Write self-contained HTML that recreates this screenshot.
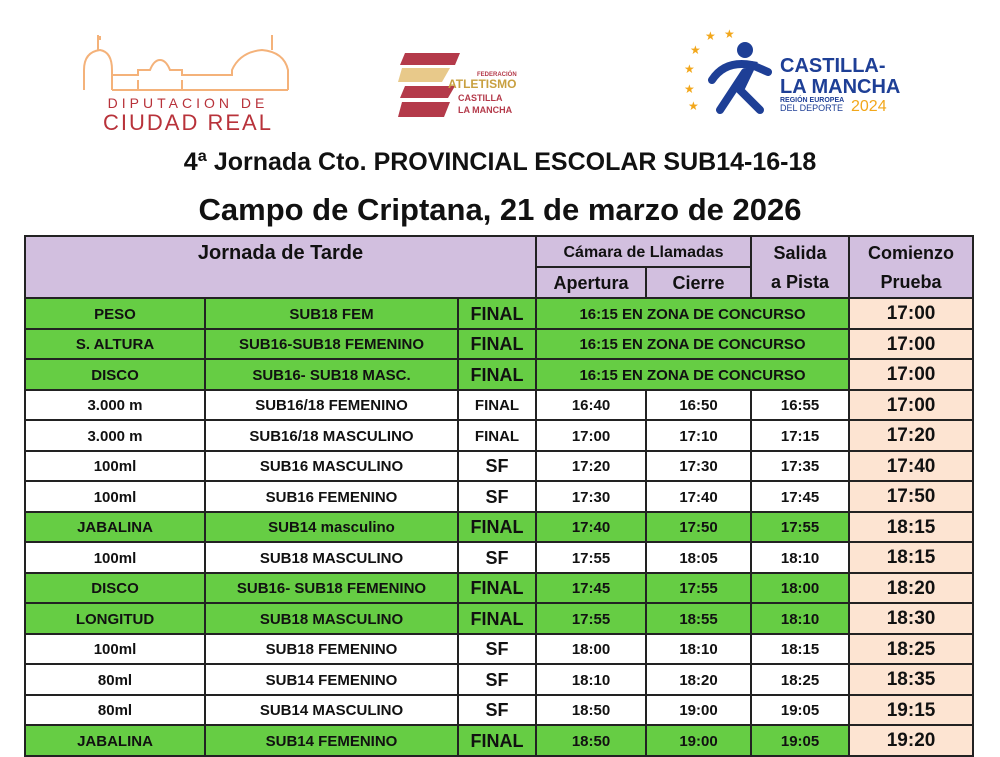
<!DOCTYPE html>
<html><head><meta charset="utf-8"><style>
body{margin:0;width:1000px;height:750px;background:#fff;overflow:hidden;font-family:"Liberation Sans",sans-serif;position:relative}
.t1{position:absolute;top:148px;left:0;width:1000px;text-align:center;font-weight:bold;font-size:25px;color:#111}
.t2{position:absolute;top:192px;left:0;width:1000px;text-align:center;font-weight:bold;font-size:31px;color:#111}
table{position:absolute;left:24px;top:235px;border-collapse:collapse;table-layout:fixed;width:949px}
td{border:2px solid #222;text-align:center;font-weight:bold;font-size:15px;padding:2px 0 0 0;height:26.5px;white-space:nowrap;overflow:hidden;color:#111;vertical-align:middle}
.h td{background:#d2bfdf;font-size:18px;height:25px}
.g td{background:#66cd44}
td.p{background:#fde4d2 !important;font-size:19px}
.b{font-size:18px}
</style></head><body>
<svg width="1000" height="140" style="position:absolute;left:0;top:0">
<g fill="none" stroke="#f4b27a" stroke-width="2">
<path d="M84 90 V70 Q84 52 100 50 Q112 52 112 70 V90 M98 50 V35 M100 40 V36 M112 75 H138 V70 H150 Q154 60 160 60 Q166 60 170 70 H182 V75 H232 V70 Q240 52 262 50 Q284 52 288 70 V90 M272 50 V35 M112 90 H288 M138 80 V90 M182 80 V90"/>
</g>
<text x="188" y="108" text-anchor="middle" font-family="Liberation Sans" font-size="14" letter-spacing="4" fill="#b8323a">DIPUTACION DE</text>
<text x="188" y="130" text-anchor="middle" font-family="Liberation Sans" font-size="22" letter-spacing="2" fill="#b8323a">CIUDAD REAL</text>
<polygon points="405,53 460,53 455,65 400,65" fill="#b43a4a"/>
<polygon points="402,68 450,68 442,82 398,82" fill="#e8c98a"/>
<polygon points="405,86 455,86 448,98 400,98" fill="#b43a4a"/>
<polygon points="402,102 450,102 444,117 398,117" fill="#b43a4a"/>
<text x="477" y="76" font-size="6" font-weight="bold" fill="#b43a4a">FEDERACIÓN</text>
<text x="448" y="88" font-size="12" font-weight="bold" fill="#c8a040">ATLETISMO</text>
<text x="458" y="101" font-size="9" font-weight="bold" fill="#b43a4a">CASTILLA</text>
<text x="458" y="113" font-size="9" font-weight="bold" fill="#b43a4a">LA MANCHA</text>
<g fill="#f2a71b" font-size="12"><text x="705" y="40">★</text><text x="724" y="38">★</text><text x="690" y="54">★</text><text x="684" y="73">★</text><text x="684" y="93">★</text><text x="688" y="110">★</text></g>
<g stroke="#1e3f96" stroke-width="8" fill="none" stroke-linecap="round"><path d="M712 80 Q725 60 752 65 L740 90 L760 110 M745 72 L720 110 M752 65 L768 72"/></g>
<circle cx="745" cy="50" r="8" fill="#1e3f96"/>
<text x="780" y="72" font-size="20" font-weight="bold" fill="#1e3f96">CASTILLA-</text>
<text x="780" y="93" font-size="20" font-weight="bold" fill="#1e3f96">LA MANCHA</text>
<text x="780" y="102" font-size="7" font-weight="bold" fill="#1e3f96">REGIÓN EUROPEA</text>
<text x="780" y="111" font-size="9" fill="#1e3f96">DEL DEPORTE</text>
<text x="851" y="111" font-size="16" fill="#f2a71b">2024</text>
</svg>
<div class="t1">4ª Jornada Cto. PROVINCIAL ESCOLAR SUB14-16-18</div>
<div class="t2">Campo de Criptana, 21 de marzo de 2026</div>
<table>
<col style="width:180px"><col style="width:253px"><col style="width:78px"><col style="width:110px"><col style="width:105px"><col style="width:98px"><col style="width:124px">
<tr class="h"><td colspan="3" rowspan="2" style="vertical-align:top;padding-top:5px;font-size:20px">Jornada de Tarde</td><td colspan="2" style="font-size:16px">Cámara de Llamadas</td><td rowspan="2" style="line-height:29px">Salida<br>a Pista</td><td rowspan="2" style="line-height:29px">Comienzo<br>Prueba</td></tr>
<tr class="h"><td>Apertura</td><td>Cierre</td></tr>
<tr class="g"><td>PESO</td><td>SUB18 FEM</td><td class="b">FINAL</td><td colspan="3">16:15 EN ZONA DE CONCURSO</td><td class="p">17:00</td></tr>
<tr class="g"><td>S. ALTURA</td><td>SUB16-SUB18 FEMENINO</td><td class="b">FINAL</td><td colspan="3">16:15 EN ZONA DE CONCURSO</td><td class="p">17:00</td></tr>
<tr class="g"><td>DISCO</td><td>SUB16- SUB18 MASC.</td><td class="b">FINAL</td><td colspan="3">16:15 EN ZONA DE CONCURSO</td><td class="p">17:00</td></tr>
<tr><td>3.000 m</td><td>SUB16/18 FEMENINO</td><td>FINAL</td><td>16:40</td><td>16:50</td><td>16:55</td><td class="p">17:00</td></tr>
<tr><td>3.000 m</td><td>SUB16/18 MASCULINO</td><td>FINAL</td><td>17:00</td><td>17:10</td><td>17:15</td><td class="p">17:20</td></tr>
<tr><td>100ml</td><td>SUB16 MASCULINO</td><td class="b">SF</td><td>17:20</td><td>17:30</td><td>17:35</td><td class="p">17:40</td></tr>
<tr><td>100ml</td><td>SUB16 FEMENINO</td><td class="b">SF</td><td>17:30</td><td>17:40</td><td>17:45</td><td class="p">17:50</td></tr>
<tr class="g"><td>JABALINA</td><td>SUB14 masculino</td><td class="b">FINAL</td><td>17:40</td><td>17:50</td><td>17:55</td><td class="p">18:15</td></tr>
<tr><td>100ml</td><td>SUB18 MASCULINO</td><td class="b">SF</td><td>17:55</td><td>18:05</td><td>18:10</td><td class="p">18:15</td></tr>
<tr class="g"><td>DISCO</td><td>SUB16- SUB18 FEMENINO</td><td class="b">FINAL</td><td>17:45</td><td>17:55</td><td>18:00</td><td class="p">18:20</td></tr>
<tr class="g"><td>LONGITUD</td><td>SUB18 MASCULINO</td><td class="b">FINAL</td><td>17:55</td><td>18:55</td><td>18:10</td><td class="p">18:30</td></tr>
<tr><td>100ml</td><td>SUB18 FEMENINO</td><td class="b">SF</td><td>18:00</td><td>18:10</td><td>18:15</td><td class="p">18:25</td></tr>
<tr><td>80ml</td><td>SUB14 FEMENINO</td><td class="b">SF</td><td>18:10</td><td>18:20</td><td>18:25</td><td class="p">18:35</td></tr>
<tr><td>80ml</td><td>SUB14 MASCULINO</td><td class="b">SF</td><td>18:50</td><td>19:00</td><td>19:05</td><td class="p">19:15</td></tr>
<tr class="g"><td>JABALINA</td><td>SUB14 FEMENINO</td><td class="b">FINAL</td><td>18:50</td><td>19:00</td><td>19:05</td><td class="p">19:20</td></tr>
</table>
</body></html>
